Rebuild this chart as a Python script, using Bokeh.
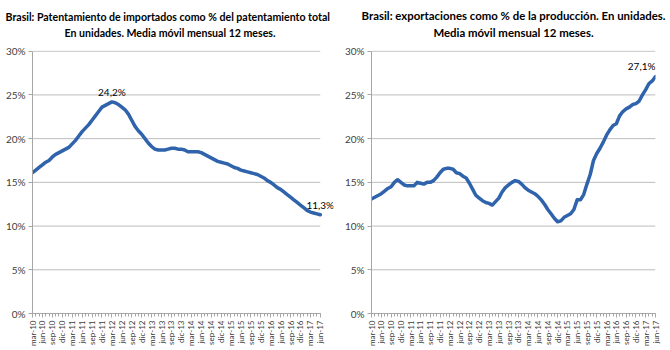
import math
from bokeh.plotting import figure
from bokeh.layouts import row
from bokeh.models import Range1d, FixedTicker, Label, Title
from bokeh.embed import file_html
from bokeh.resources import INLINE

tick_labels = ["mar-10", "jun-10", "sep-10", "dic-10",
               "mar-11", "jun-11", "sep-11", "dic-11",
               "mar-12", "jun-12", "sep-12", "dic-12",
               "mar-13", "jun-13", "sep-13", "dic-13",
               "mar-14", "jun-14", "sep-14", "dic-14",
               "mar-15", "jun-15", "sep-15", "dic-15",
               "mar-16", "jun-16", "sep-16", "dic-16",
               "mar-17", "jun-17"]

# % importados sobre patentamiento total (mar-10 .. jun-17, mensual)
importados = [16.1, 16.4, 16.7, 17.0, 17.3, 17.5, 17.9, 18.2, 18.4, 18.6,
              18.8, 19.0, 19.4, 19.8, 20.3, 20.8, 21.2, 21.6, 22.1, 22.6,
              23.1, 23.6, 23.8, 24.0, 24.2, 24.1, 23.9, 23.6, 23.3, 22.8,
              22.1, 21.4, 20.9, 20.5, 20.0, 19.5, 19.1, 18.8, 18.7, 18.7,
              18.7, 18.8, 18.9, 18.9, 18.8, 18.8, 18.7, 18.5, 18.5, 18.5,
              18.5, 18.4, 18.2, 18.0, 17.8, 17.6, 17.4, 17.3, 17.2, 17.1,
              16.9, 16.7, 16.6, 16.4, 16.3, 16.2, 16.1, 16.0, 15.9, 15.7,
              15.5, 15.2, 15.0, 14.7, 14.4, 14.2, 13.9, 13.6, 13.3, 13.0,
              12.7, 12.4, 12.1, 11.8, 11.6, 11.5, 11.4, 11.3]

# exportaciones como % de la produccion (mar-10 .. jun-17, mensual)
exportaciones = [13.1, 13.3, 13.5, 13.7, 14.0, 14.3, 14.5, 15.0, 15.3, 15.0,
                 14.7, 14.6, 14.6, 14.6, 15.0, 14.9, 14.8, 15.0, 15.0, 15.2,
                 15.6, 16.1, 16.5, 16.6, 16.6, 16.5, 16.1, 16.0, 15.7, 15.5,
                 14.9, 14.2, 13.5, 13.2, 12.9, 12.7, 12.6, 12.4, 12.8, 13.2,
                 13.9, 14.4, 14.7, 15.0, 15.2, 15.1, 14.8, 14.4, 14.1, 13.9,
                 13.7, 13.4, 13.0, 12.5, 11.9, 11.4, 10.9, 10.5, 10.6, 11.0,
                 11.2, 11.4, 11.9, 13.0, 13.0, 13.6, 14.8, 15.9, 17.5, 18.3,
                 18.9, 19.6, 20.4, 21.0, 21.5, 21.7, 22.6, 23.1, 23.4, 23.6,
                 23.9, 24.0, 24.3, 25.0, 25.6, 26.3, 26.6, 27.1]

y_ticks = [0, 5, 10, 15, 20, 25, 30]

FONT = "Lato"
BLUE = "#2F63AB"
GRID = "#BDBDBD"
AXIS = "#A6A6A6"
TXT = "#404040"


def fmt(v):
    return ("%.1f%%" % v).replace(".", ",")


def make_chart(values, title1, title2, title_size, title_align, off1, off2,
               bl, br, bt, bb, pad):
    n = len(values)
    xs = list(range(n))
    p = figure(width=335, height=350, output_backend="svg", toolbar_location=None,
               x_range=Range1d(0, n - 1 + pad), y_range=Range1d(0, 30.08),
               min_border_left=bl, min_border_right=br,
               min_border_top=bt, min_border_bottom=bb)
    p.outline_line_color = None
    p.background_fill_color = "white"
    p.border_fill_color = "white"

    # horizontal gridlines limited to the data span
    p.xgrid.visible = False
    p.ygrid.visible = False
    p.segment(x0=0, x1=n - 1, y0=y_ticks, y1=y_ticks, line_color=GRID, line_width=1)

    p.line(xs, values, line_color=BLUE, line_width=3.5, line_join="round", line_cap="round")

    major = [i * 3 for i in range(len(tick_labels))]
    p.xaxis.bounds = (0, n - 1)
    p.xaxis.ticker = FixedTicker(ticks=major, minor_ticks=xs)
    p.xaxis.major_label_overrides = {m: lab for m, lab in zip(major, tick_labels)}
    p.xaxis.major_label_orientation = math.pi / 2
    p.xaxis.major_label_text_font = FONT
    p.xaxis.major_label_text_font_size = "8px"
    p.xaxis.major_label_text_color = TXT
    p.xaxis.axis_line_color = AXIS
    p.xaxis.major_tick_line_color = AXIS
    p.xaxis.minor_tick_line_color = AXIS
    p.xaxis.major_tick_in = 0
    p.xaxis.major_tick_out = 4
    p.xaxis.minor_tick_in = 0
    p.xaxis.minor_tick_out = 3
    p.xaxis.major_label_standoff = 3

    p.yaxis.ticker = FixedTicker(ticks=y_ticks)
    p.yaxis.bounds = (0, 30)
    p.yaxis.major_label_overrides = {t: "%d%%" % t for t in y_ticks}
    p.yaxis.major_label_text_font = FONT
    p.yaxis.major_label_text_font_size = "10px"
    p.yaxis.major_label_text_color = TXT
    p.yaxis.axis_line_color = AXIS
    p.yaxis.major_tick_line_color = AXIS
    p.yaxis.minor_tick_line_color = None
    p.yaxis.major_tick_in = 0
    p.yaxis.major_tick_out = 4
    p.yaxis.major_label_standoff = 3

    # spacer between the frame and the two-line title
    p.add_layout(Title(text="\u00a0", text_font=FONT, text_font_size="8px", standoff=0), "above")
    p.add_layout(Title(text=title2, align=title_align, offset=off2, text_font=FONT,
                       text_font_size=title_size, text_font_style="bold",
                       text_color="black", standoff=0), "above")
    p.add_layout(Title(text=title1, align=title_align, offset=off1, text_font=FONT,
                       text_font_size=title_size, text_font_style="bold",
                       text_color="black", standoff=4), "above")
    return p


left = make_chart(importados,
                  "Brasil: Patentamiento de importados  como % del patentamiento total",
                  "En unidades.  Media móvil mensual 12 meses.",
                  "10.6px", "left", -27, 32,
                  32, 2, 49, 37, 4)
ipk = max(range(len(importados)), key=lambda i: importados[i])
left.add_layout(Label(x=ipk, y=importados[ipk], text=fmt(importados[ipk]), text_align="center",
                      text_baseline="bottom", y_offset=4, text_font=FONT, text_font_size="10px",
                      text_color="black"))
iend = len(importados) - 1
left.add_layout(Label(x=iend, y=importados[iend], text=fmt(importados[iend]), text_align="center",
                      text_baseline="bottom", y_offset=4, text_font=FONT, text_font_size="10px",
                      text_color="black"))

right = make_chart(exportaciones,
                   "Brasil: exportaciones como % de la producción. En unidades.",
                   "Media móvil mensual 12 meses.",
                   "11.4px", "center", 0, 0,
                   36, 15, 50, 34, 0)
eend = len(exportaciones) - 1
right.add_layout(Label(x=eend, y=exportaciones[eend], text=fmt(exportaciones[eend]), text_align="right",
                       text_baseline="bottom", y_offset=5, text_font=FONT, text_font_size="10px",
                       text_color="black"))

layout = row(left, right)
open("out.html", "w").write(file_html(layout, INLINE))
